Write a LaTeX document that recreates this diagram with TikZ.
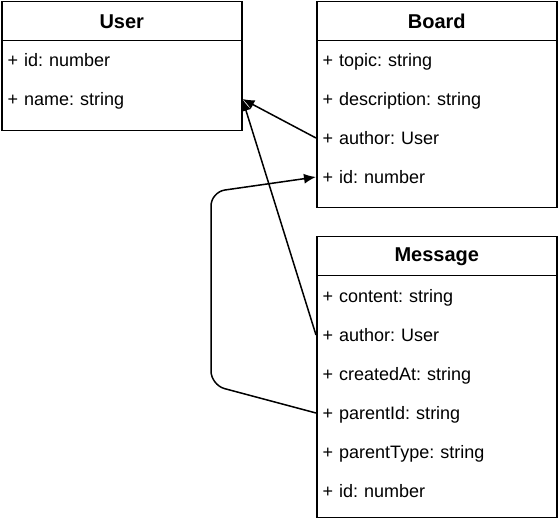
\documentclass[tikz,border=0pt]{standalone}
\usepackage{fontspec}
\setmainfont{Liberation Sans}
\usetikzlibrary{arrows.meta}
\frenchspacing
\tikzset{
classbox/.style={draw, line width=1.5pt, anchor=north west, minimum width=240pt, inner sep=0pt},
classhead/.style={classbox, minimum height=39pt, font=\fontsize{20}{22}\selectfont\bfseries},
attr/.style={anchor=west, text width=228pt, inner xsep=6.5pt, inner ysep=0pt, align=left, text height=15pt, text depth=2pt},
assoc/.style={line width=1.5pt, -{Latex[length=12pt,width=10pt]}}
}
\begin{document}
\begin{tikzpicture}[x=1pt,y=-1pt,font=\fontsize{18}{21}\selectfont]
\useasboundingbox (0,0) rectangle (558,518);

% User
\node (userhead) at (1,1) [classhead] {User};
\node (userbody) at (1,40) [classbox, minimum height=90pt] {};
\node (uid) at (1,60) [attr] {+ id: number};
\node (uname) at (1,99) [attr] {+ name: string};

% Board
\node (boardhead) at (316,1) [classhead] {Board};
\node (boardbody) at (316,40) [classbox, minimum height=167pt] {};
\node (btopic) at (316,60) [attr] {+ topic: string};
\node (bdesc) at (316,99) [attr] {+ description: string};
\node (bauthor) at (316,138) [attr] {+ author: User};
\node (bid) at (316,177) [attr] {+ id: number};

% Message
\node (msghead) at (316,236) [classhead] {Message};
\node (msgbody) at (316,275) [classbox, minimum height=242pt] {};
\node (mcontent) at (316,296) [attr] {+ content: string};
\node (mauthor) at (316,335) [attr] {+ author: User};
\node (mcreated) at (316,374) [attr] {+ createdAt: string};
\node (mparentid) at (316,413) [attr] {+ parentId: string};
\node (mparenttype) at (316,452) [attr] {+ parentType: string};
\node (mid) at (316,491) [attr] {+ id: number};

\coordinate (low) at (211,385);
\coordinate (high) at (211,192);

\draw[assoc]
(bauthor.west) to (uname.east);
\draw[assoc]
(mauthor.west) to (uname.east);
\draw[assoc, rounded corners=14pt]
(mparentid.west) -- (low) -- (high) -- (bid.west);
\end{tikzpicture}
\end{document}
